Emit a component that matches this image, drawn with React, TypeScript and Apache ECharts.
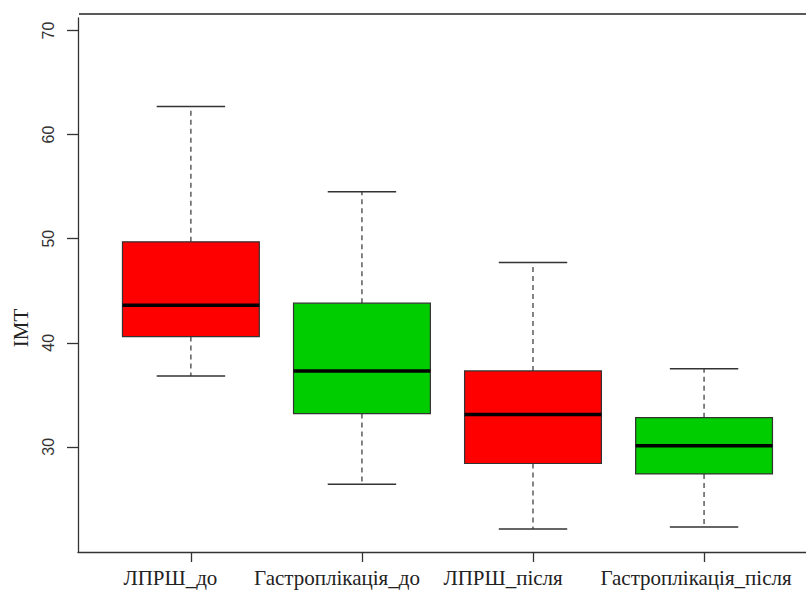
import React, { useEffect, useRef } from "react";
import * as echarts from "echarts";

const categories = ["ЛПРШ_до", "Гастроплікація_до", "ЛПРШ_після", "Гастроплікація_після"];
const mins = [36.8, 26.4, 22.1, 22.3];
const q1s = [40.6, 33.2, 28.4, 27.4];
const medians = [43.6, 37.3, 33.1, 30.1];
const q3s = [49.7, 43.8, 37.3, 32.8];
const maxs = [62.7, 54.5, 47.7, 37.5];
const boxColors = ["#FF0000", "#00CD00", "#FF0000", "#00CD00"];
const yTicks = [30, 40, 50, 60, 70];
const xTicks = [1, 2, 3, 4];
// label anchor positions along the x axis (as placed in the source figure)
const xLabelAt = [0.88, 1.854, 2.825, 3.953];

export default function App() {
  const ref = useRef<HTMLDivElement>(null);
  useEffect(() => {
    if (!ref.current) return;
    const chart = echarts.init(ref.current, null, { renderer: "svg" });
    const data = categories.map((_, i) => [i + 1, mins[i], q1s[i], medians[i], q3s[i], maxs[i]]);
    const option: any = {
      animation: false,
      backgroundColor: "#ffffff",
      grid: { left: 78, right: 0, top: 18, bottom: 38 },
      xAxis: {
        type: "value",
        min: 0.34,
        max: 4.596,
        axisLine: { show: true, onZero: false, lineStyle: { color: "#333", width: 1.3 } },
        axisTick: { show: true, customValues: xTicks, length: 10, lineStyle: { color: "#333", width: 1.3 } },
        axisLabel: {
          show: true,
          customValues: xLabelAt,
          formatter: (v: number) => categories[Math.round(v) - 1] || "",
          fontFamily: "Liberation Serif",
          fontSize: 21,
          color: "#222",
          margin: 15,
          hideOverlap: false,
        },
        splitLine: { show: false },
      },
      yAxis: {
        type: "value",
        min: 19.9,
        max: 71.2,
        axisLine: { show: true, lineStyle: { color: "#333", width: 1.3 } },
        axisTick: { show: true, customValues: yTicks, length: 11, lineStyle: { color: "#333", width: 1.3 } },
        axisLabel: {
          show: true,
          customValues: yTicks,
          rotate: 90,
          fontFamily: "Liberation Sans",
          fontSize: 16,
          color: "#333",
          margin: 22,
        },
        splitLine: { show: false },
      },
      graphic: [
        {
          type: "line",
          shape: { x1: 79, y1: 14, x2: 806, y2: 14 },
          style: { stroke: "#222", lineWidth: 1.5 },
        },
        {
          type: "text",
          x: 20.5,
          y: 328,
          rotation: Math.PI / 2,
          style: {
            text: "IMT",
            fontFamily: "Liberation Serif",
            fontSize: 21,
            fill: "#222",
            align: "center",
            verticalAlign: "middle",
          },
        },
      ],
      series: [
        {
          type: "custom",
          clip: false,
          data,
          encode: { x: 0, y: [1, 2, 3, 4, 5] },
          renderItem: (params: any, api: any) => {
            const x = api.value(0);
            const vMin = api.value(1);
            const vQ1 = api.value(2);
            const vMed = api.value(3);
            const vQ3 = api.value(4);
            const vMax = api.value(5);
            const pMin = api.coord([x, vMin]);
            const pQ1 = api.coord([x, vQ1]);
            const pMed = api.coord([x, vMed]);
            const pQ3 = api.coord([x, vQ3]);
            const pMax = api.coord([x, vMax]);
            const boxW = api.size([0.8, 0])[0];
            const capW = api.size([0.4, 0])[0];
            const cx = pMed[0];
            const color = boxColors[params.dataIndex];
            const dashStyle = { stroke: "#333", lineWidth: 1.2, lineDash: [5, 4] };
            const capStyle = { stroke: "#333", lineWidth: 1.5 };
            return {
              type: "group",
              children: [
                { type: "line", shape: { x1: cx, y1: pQ3[1], x2: cx, y2: pMax[1] }, style: dashStyle },
                { type: "line", shape: { x1: cx, y1: pQ1[1], x2: cx, y2: pMin[1] }, style: dashStyle },
                { type: "line", shape: { x1: cx - capW / 2, y1: pMax[1], x2: cx + capW / 2, y2: pMax[1] }, style: capStyle },
                { type: "line", shape: { x1: cx - capW / 2, y1: pMin[1], x2: cx + capW / 2, y2: pMin[1] }, style: capStyle },
                {
                  type: "rect",
                  shape: { x: cx - boxW / 2, y: pQ3[1], width: boxW, height: pQ1[1] - pQ3[1] },
                  style: { fill: color, stroke: "#333", lineWidth: 1.2 },
                },
                {
                  type: "line",
                  shape: { x1: cx - boxW / 2, y1: pMed[1], x2: cx + boxW / 2, y2: pMed[1] },
                  style: { stroke: "#000", lineWidth: 3.5 },
                },
              ],
            };
          },
        },
      ],
    };
    chart.setOption(option);
    return () => chart.dispose();
  }, []);
  return <div ref={ref} style={{ width: 806, height: 590, position: "absolute", left: 0, top: 0 }} />;
}
